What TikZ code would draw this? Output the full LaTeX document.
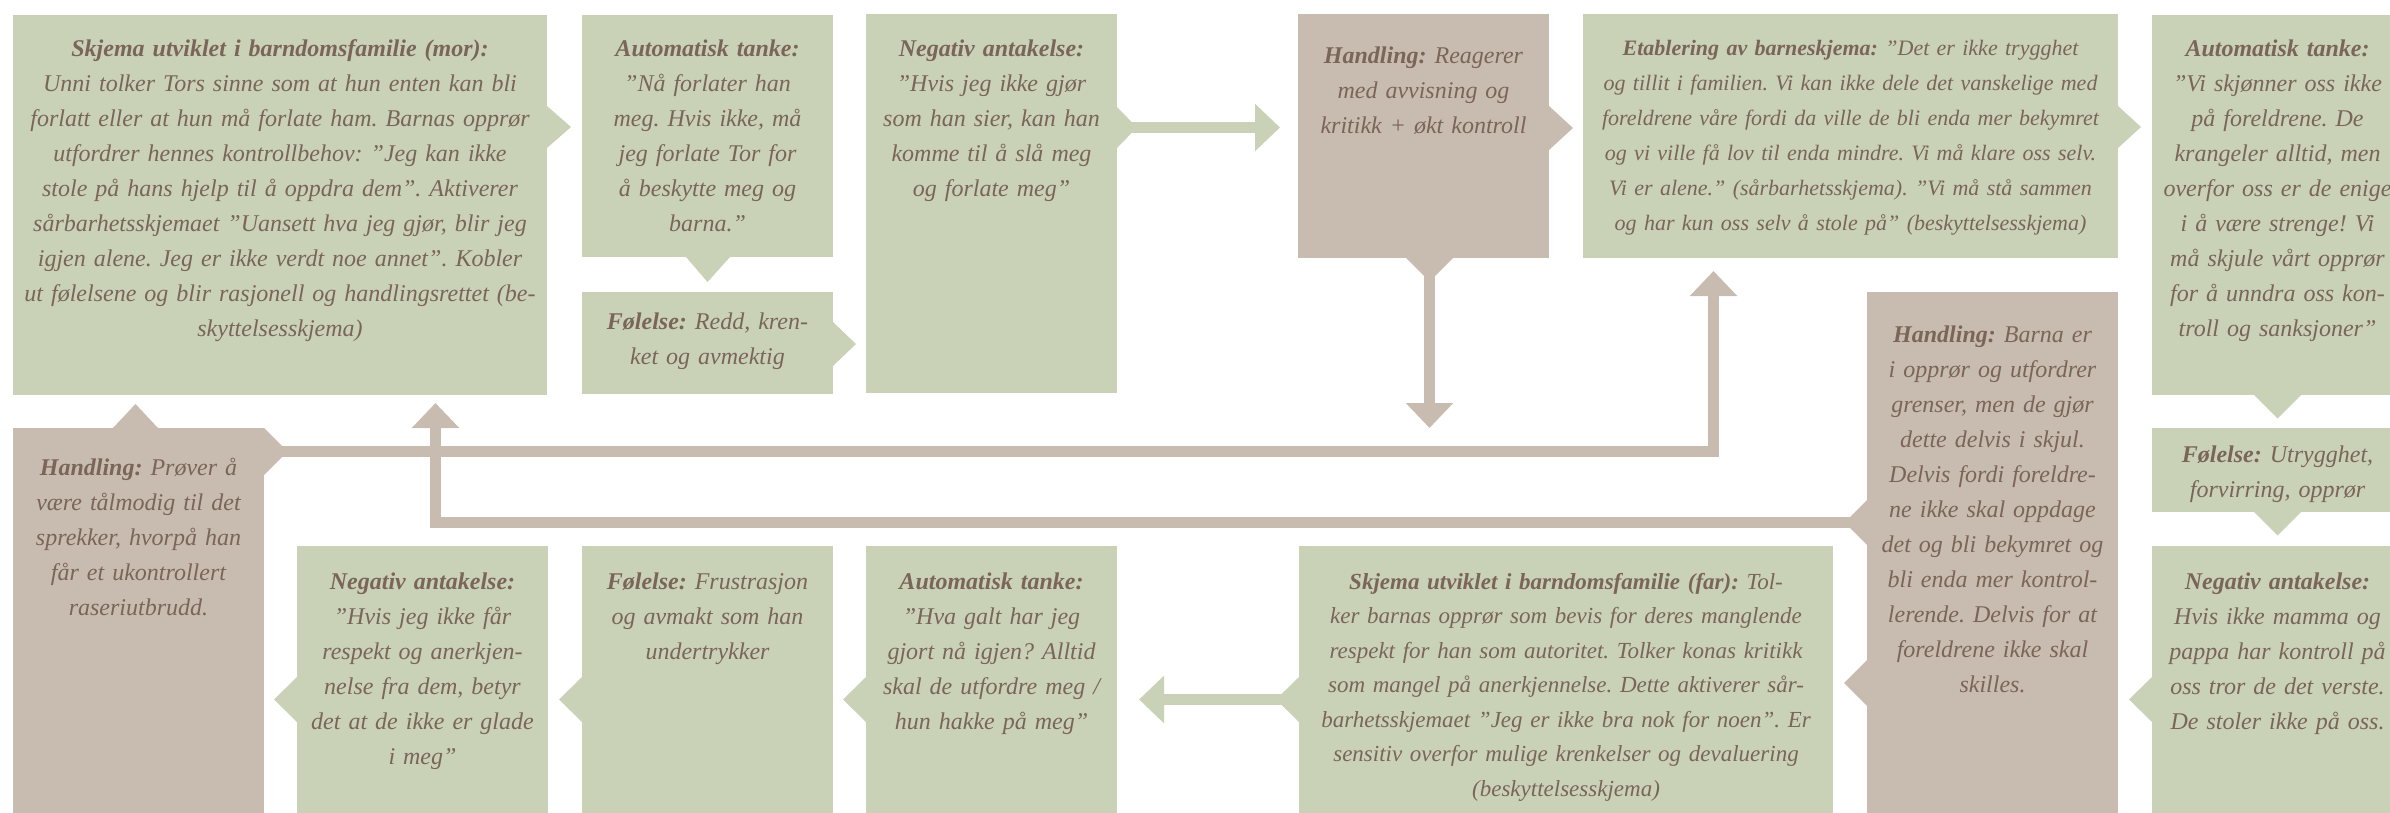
\documentclass[tikz,border=0pt]{standalone}
\usepackage{fontspec}
\setmainfont{Liberation Serif}
\usetikzlibrary{arrows.meta}
\definecolor{gfill}{RGB}{201,210,182}
\definecolor{bfill}{RGB}{200,188,176}
\definecolor{tcol}{RGB}{122,101,88}
\newcommand\hd[1]{\textbf{#1}}
\frenchspacing
\begin{document}
\begin{tikzpicture}[x=1pt,y=-1pt,
  box/.style={anchor=north west, inner sep=0pt, outer sep=0pt, draw=none},
  gbox/.style={box, fill=gfill},
  bbox/.style={box, fill=bfill},
  txt/.style={anchor=north, inner sep=0pt, outer sep=0pt, align=center, text=tcol, text width=250pt,
    font=\fontsize{24}{35}\selectfont\itshape},
  wtxt/.style={txt, text width=530pt},
  gline/.style={draw=gfill, line width=11pt},
  bline/.style={draw=bfill, line width=11pt},
  tipped/.style={-{Triangle[width=46pt,length=25pt]}}
]
\useasboundingbox (0,0) rectangle (2390,813);
\clip (0,0) rectangle (2390,813);

% ---------- boxes ----------
\node[gbox, minimum width=534pt, minimum height=380pt] (mor)   at (13,15) {};
\node[gbox, minimum width=251pt, minimum height=242pt] (auto1) at (582,15) {};
\node[gbox, minimum width=251pt, minimum height=102pt] (fol1)  at (582,292) {};
\node[gbox, minimum width=251pt, minimum height=379pt] (neg1)  at (866,14) {};
\node[bbox, minimum width=251pt, minimum height=244pt] (hand1) at (1298,14) {};
\node[gbox, minimum width=535pt, minimum height=244pt] (etab)  at (1583,14) {};
\node[gbox, minimum width=251pt, minimum height=380pt] (auto2) at (2152,15) {};
\node[gbox, minimum width=251pt, minimum height=84pt]  (fol3)  at (2152,428) {};
\node[gbox, minimum width=251pt, minimum height=267pt] (neg3)  at (2152,546) {};
\node[bbox, minimum width=251pt, minimum height=521pt] (barna) at (1867,292) {};
\node[gbox, minimum width=534pt, minimum height=267pt] (far)   at (1299,546) {};
\node[gbox, minimum width=251pt, minimum height=267pt] (auto3) at (866,546) {};
\node[gbox, minimum width=251pt, minimum height=267pt] (fol2)  at (582,546) {};
\node[gbox, minimum width=251pt, minimum height=267pt] (neg2)  at (297,546) {};
\node[bbox, minimum width=251pt, minimum height=385pt] (prover) at (13,428) {};

% ---------- pointers ----------
\fill[gfill] (547,106) -- (571,127) -- (547,148) -- cycle;        % mor right
\fill[gfill] (686,257) -- (707.5,282) -- (730,257) -- cycle;      % auto1 down
\fill[gfill] (833,322) -- (856,344) -- (833,366) -- cycle;        % fol1 right
\fill[gfill] (1117,107) -- (1137,127.5) -- (1117,148) -- cycle;   % neg1 right
\fill[bfill] (1549,106) -- (1573,128) -- (1549,150) -- cycle;     % hand1 right
\fill[bfill] (1406,258) -- (1429.5,281.5) -- (1453,258) -- cycle; % hand1 down
\fill[gfill] (2118,106) -- (2141,127) -- (2118,148) -- cycle;     % etab right
\fill[gfill] (2254,395) -- (2277.5,418.5) -- (2301,395) -- cycle; % auto2 down
\fill[gfill] (2254,512) -- (2277.5,535.5) -- (2301,512) -- cycle; % fol3 down
\fill[gfill] (2152,677) -- (2129,699.5) -- (2152,722) -- cycle;   % neg3 left
\fill[bfill] (1867,500) -- (1844.5,522.5) -- (1867,545) -- cycle; % barna left upper
\fill[bfill] (1867,660) -- (1844,683) -- (1867,706) -- cycle;     % barna left lower
\fill[gfill] (1299,677) -- (1276,699.5) -- (1299,722) -- cycle;   % far left
\fill[gfill] (866,677) -- (843,699.5) -- (866,722) -- cycle;      % auto3 left
\fill[gfill] (582,677) -- (559,699.5) -- (582,722) -- cycle;      % fol2 left
\fill[gfill] (297,677) -- (274,699.5) -- (297,722) -- cycle;      % neg2 left
\fill[bfill] (113,428) -- (135.5,404) -- (158,428) -- cycle;      % prover up
\fill[bfill] (264,428) -- (287.5,451.5) -- (264,475) -- cycle;    % prover right

% ---------- connectors ----------
\coordinate (hdown) at (1429.5,428);
\draw[gline, tipped, shorten >=18pt] ([yshift=-113.5pt]neg1.north east) -- ([yshift=-113.5pt]hand1.north west);
\draw[bline, tipped] (hand1.south -| hdown) -- (hdown);
\draw[bline, tipped] ([yshift=-23.5pt]prover.north east) -| ([xshift=-137pt,yshift=-13pt]etab.south);
\draw[bline, tipped] ([yshift=-230.5pt]barna.north west) -| ([xshift=155.5pt,yshift=-8pt]mor.south);
\draw[gline, tipped, shorten >=22pt] ([yshift=-153.5pt]far.north west) -- ([yshift=-153.5pt]auto3.north east);

% ---------- texts ----------
\node[wtxt] (tmor) at ([yshift=-17.5pt]mor.north) {\strut\hd{Skjema utviklet i barndomsfamilie (mor):}\\
Unni tolker Tors sinne som at hun enten kan bli\\
forlatt eller at hun må forlate ham. Barnas opprør\\
utfordrer hennes kontrollbehov: ”Jeg kan ikke\\
stole på hans hjelp til å oppdra dem”. Aktiverer\\
sårbarhetsskjemaet ”Uansett hva jeg gjør, blir jeg\\
igjen alene. Jeg er ikke verdt noe annet”. Kobler\\
ut følelsene og blir rasjonell og handlingsrettet (be-\\
skyttelsesskjema)};

\node[txt] (tauto1) at ([yshift=-17.5pt]auto1.north) {\strut\hd{Automatisk tanke:}\\
”Nå forlater han\\ meg. Hvis ikke, må\\ jeg forlate Tor for\\ å beskytte meg og\\ barna.”};

\node[txt] (tfol1) at ([yshift=-12.5pt]fol1.north) {\strut\hd{Følelse:} Redd, kren-\\ ket og avmektig};

\node[txt] (tneg1) at ([yshift=-18pt]neg1.north) {\strut\hd{Negativ antakelse:}\\
”Hvis jeg ikke gjør\\ som han sier, kan han\\ komme til å slå meg\\ og forlate meg”};

\node[txt] (thand1) at ([yshift=-25.5pt]hand1.north) {\strut\hd{Handling:} Reagerer\\ med avvisning og\\ kritikk + økt kontroll};

\node[wtxt, font=\fontsize{22}{35}\selectfont\itshape] (tetab) at ([yshift=-17.5pt]etab.north) {\strut\hd{Etablering av barneskjema:} ”Det er ikke trygghet\\
og tillit i familien. Vi kan ikke dele det vanskelige med\\
foreldrene våre fordi da ville de bli enda mer bekymret\\
og vi ville få lov til enda mindre. Vi må klare oss selv.\\
Vi er alene.” (sårbarhetsskjema). ”Vi må stå sammen\\
og har kun oss selv å stole på” (beskyttelsesskjema)};

\node[txt] (tauto2) at ([yshift=-17.5pt]auto2.north) {\strut\hd{Automatisk tanke:}\\
”Vi skjønner oss ikke\\ på foreldrene. De\\ krangeler alltid, men\\ overfor oss er de enige\\ i å være strenge! Vi\\ må skjule vårt opprør\\ for å unndra oss kon-\\ troll og sanksjoner”};

\node[txt] (tfol3) at ([yshift=-9.5pt]fol3.north) {\strut\hd{Følelse:} Utrygghet,\\ forvirring, opprør};

\node[txt] (tneg3) at ([yshift=-18.5pt]neg3.north) {\strut\hd{Negativ antakelse:}\\
Hvis ikke mamma og\\ pappa har kontroll på\\ oss tror de det verste.\\ De stoler ikke på oss.};

\node[txt] (tbarna) at ([yshift=-25.5pt]barna.north) {\strut\hd{Handling:} Barna er\\
i opprør og utfordrer\\ grenser, men de gjør\\ dette delvis i skjul.\\ Delvis fordi foreldre-\\ ne ikke skal oppdage\\ det og bli bekymret og\\ bli enda mer kontrol-\\ lerende. Delvis for at\\ foreldrene ikke skal\\ skilles.};

\node[wtxt, font=\fontsize{23}{34.5}\selectfont\itshape] (tfar) at ([yshift=-19pt]far.north) {\strut\hd{Skjema utviklet i barndomsfamilie (far):} Tol-\\
ker barnas opprør som bevis for deres manglende\\
respekt for han som autoritet. Tolker konas kritikk\\
som mangel på anerkjennelse. Dette aktiverer sår-\\
barhetsskjemaet ”Jeg er ikke bra nok for noen”. Er\\
sensitiv overfor mulige krenkelser og devaluering\\
(beskyttelsesskjema)};

\node[txt] (tauto3) at ([yshift=-18.5pt]auto3.north) {\strut\hd{Automatisk tanke:}\\
”Hva galt har jeg\\ gjort nå igjen? Alltid\\ skal de utfordre meg /\\ hun hakke på meg”};

\node[txt] (tfol2) at ([yshift=-18.5pt]fol2.north) {\strut\hd{Følelse:} Frustrasjon\\ og avmakt som han\\ undertrykker};

\node[txt] (tneg2) at ([yshift=-18.5pt]neg2.north) {\strut\hd{Negativ antakelse:}\\
”Hvis jeg ikke får\\ respekt og anerkjen-\\ nelse fra dem, betyr\\ det at de ikke er glade\\ i meg”};

\node[txt] (tprover) at ([yshift=-22.5pt]prover.north) {\strut\hd{Handling:} Prøver å\\
være tålmodig til det\\ sprekker, hvorpå han\\ får et ukontrollert\\ raseriutbrudd.};
\end{tikzpicture}
\end{document}
